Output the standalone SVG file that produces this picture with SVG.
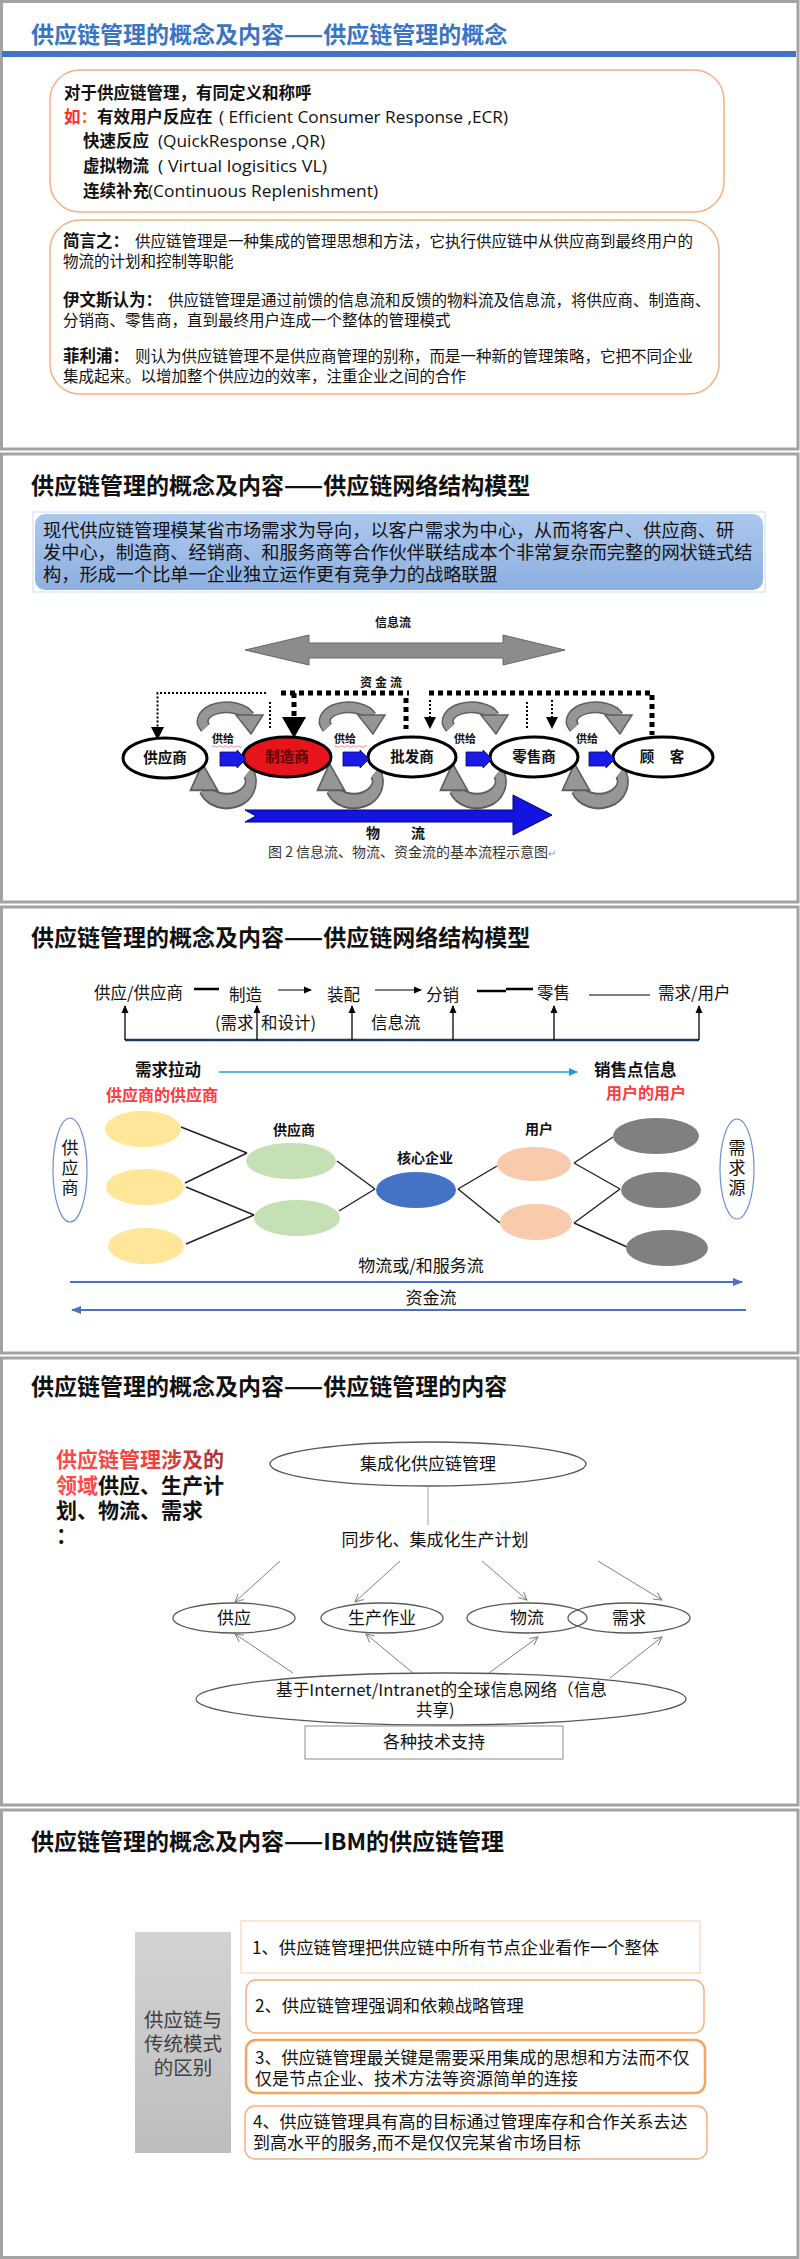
<svg xmlns="http://www.w3.org/2000/svg" xmlns:xlink="http://www.w3.org/1999/xlink" width="800" height="2259" viewBox="0 0 800 2259">
<style>
text { font-family: "Noto Sans CJK SC", "Noto Sans", "Liberation Sans", sans-serif; fill: #111; }
.title { font-size: 23px; font-weight: bold; }
.frame { fill: #fff; stroke: #a3a3a3; stroke-width: 3; }
.b165 { font-size: 16.5px; font-weight: bold; }
.body { font-size: 15.5px; }
.lat { font-family: "Open Sans", "Liberation Sans", sans-serif; font-size: 16px; }
.node { fill: #fff; stroke: #000; stroke-width: 3; }
.nl { font-size: 14.5px; font-weight: bold; text-anchor: middle; }
.gl { font-size: 11px; font-weight: bold; }
.thin { stroke: #000; stroke-width: 2; stroke-dasharray: 2 2; fill: none; }
.thick { stroke: #000; stroke-width: 5; stroke-dasharray: 5 4; fill: none; }
.s3 { font-size: 16.5px; }
.s3b { font-size: 16.5px; font-weight: bold; }
.red { fill: #ff3b3b; font-weight: bold; font-size: 16px; }
.lk { stroke: #222; stroke-width: 1.4; fill: none; }
.s4 { font-size: 17px; text-anchor: middle; }
.ell4 { fill: none; stroke: #595959; stroke-width: 1.3; }
.ar4 { stroke: #808080; stroke-width: 1; fill: none; marker-end: url(#openHead); }
.s5 { font-size: 17.3px; }
.s5b { font-size: 17px; }
.vt { font-size: 17px; writing-mode: vertical-rl; letter-spacing: 3px; }
</style>
<defs>
<marker id="blkHead" markerUnits="userSpaceOnUse" markerWidth="8" markerHeight="8" refX="7" refY="4" orient="auto"><path d="M0,0.5 L8,4 L0,7.5 z" fill="#000"/></marker>
<marker id="bluHead" markerUnits="userSpaceOnUse" markerWidth="9" markerHeight="9" refX="8" refY="4.5" orient="auto"><path d="M0,0.5 L9,4.5 L0,8.5 z" fill="#1f9bde"/></marker>
<marker id="bl2Head" markerUnits="userSpaceOnUse" markerWidth="10" markerHeight="10" refX="9" refY="5" orient="auto"><path d="M0,1 L10,5 L0,9 z" fill="#4472c4"/></marker>
<marker id="openHead" markerUnits="userSpaceOnUse" markerWidth="10" markerHeight="10" refX="9" refY="5" orient="auto"><path d="M1,1 L9,5 L1,9" fill="none" stroke="#808080" stroke-width="1"/></marker>
<linearGradient id="boxBlue" x1="0" y1="0" x2="0" y2="1"><stop offset="0" stop-color="#abc7ec"/><stop offset="1" stop-color="#8eb0e0"/></linearGradient>
<linearGradient id="grayBox" x1="0" y1="0" x2="0" y2="1"><stop offset="0" stop-color="#d3d3d3"/><stop offset="1" stop-color="#bdbdbd"/></linearGradient>
<linearGradient id="redGrad" gradientUnits="userSpaceOnUse" x1="56" y1="0" x2="228" y2="0"><stop offset="0" stop-color="#ff4a4a"/><stop offset="0.55" stop-color="#f04040"/><stop offset="1" stop-color="#a33030"/></linearGradient>
<g id="arcTop">
<path d="M -22.6,4.8 A 24 14 0 1 1 21,-6.8" fill="none" stroke="#5e5e5e" stroke-width="12"/>
<path d="M -22.6,4.8 A 24 14 0 1 1 21,-6.8" fill="none" stroke="#969696" stroke-width="9"/>
<polygon points="8,-8 35,-8 23,11" fill="#969696" stroke="#5e5e5e" stroke-width="1.5"/>
</g>
<polygon id="smallBlue" points="0,-7 17,-7 17,-9 26,0 17,9 17,7 0,7" fill="#1a1ae6" stroke="#00006a" stroke-width="0.8"/>
</defs>

<rect width="800" height="2259" fill="#fff"/>

<!-- Slide 1 -->
<g id="slide1">
<rect class="frame" x="1.5" y="1.5" width="796.5" height="447.5"/>
<text class="title" x="31" y="43" style="fill:#3a75c4">供应链管理的概念及内容——供应链管理的概念</text>
<rect x="2" y="51" width="794" height="6" fill="#4472c4"/>
<g id="s1box1">
<rect x="50" y="70" width="674" height="142" rx="30" fill="#fff" stroke="#f4b183" stroke-width="1.5"/>
<text class="b165" x="64" y="99">对于供应链管理，有同定义和称呼</text>
<text class="b165" x="64" y="123"><tspan style="fill:#ff2a2a">如</tspan><tspan style="fill:#e8642a">：</tspan>有效用户反应在</text>
<text class="lat" x="219" y="123" textLength="289" lengthAdjust="spacingAndGlyphs">( Efficient  Consumer  Response ,ECR)</text>
<text class="b165" x="83" y="147">快速反应</text>
<text class="lat" x="158" y="147" textLength="167" lengthAdjust="spacingAndGlyphs">(QuickResponse ,QR)</text>
<text class="b165" x="83" y="172">虚拟物流</text>
<text class="lat" x="158" y="172" textLength="169" lengthAdjust="spacingAndGlyphs">( Virtual  logisitics VL)</text>
<text class="b165" x="83" y="197">连续补充</text>
<text class="lat" x="148" y="197" textLength="230" lengthAdjust="spacingAndGlyphs">(Continuous  Replenishment)</text>
</g>
<g id="s1box2">
<rect x="50" y="220" width="669" height="174" rx="30" fill="#fff" stroke="#f4b183" stroke-width="1.5"/>
<text class="b165" x="63" y="247">简言之：</text>
<text class="body" x="135" y="247">供应链管理是一种集成的管理思想和方法，它执行供应链中从供应商到最终用户的</text>
<text class="body" x="63" y="267">物流的计划和控制等职能</text>
<text class="b165" x="63" y="306">伊文斯认为：</text>
<text class="body" x="168" y="306">供应链管理是通过前馈的信息流和反馈的物料流及信息流，将供应商、制造商、</text>
<text class="body" x="63" y="326">分销商、零售商，直到最终用户连成一个整体的管理模式</text>
<text class="b165" x="63" y="362">菲利浦：</text>
<text class="body" x="135" y="362">则认为供应链管理不是供应商管理的别称，而是一种新的管理策略，它把不同企业</text>
<text class="body" x="63" y="382">集成起来。以增加整个供应边的效率，注重企业之间的合作</text>
</g>
</g>

<!-- Slide 2 -->
<g id="slide2">
<rect class="frame" x="1.5" y="454" width="796.5" height="448"/>
<text class="title" x="31" y="494">供应链管理的概念及内容——供应链网络结构模型</text>
<g id="s2intro">
<rect x="33" y="512" width="732" height="80" fill="none" stroke="#c9dbf2" stroke-width="1"/>
<rect x="35" y="514" width="728" height="76" rx="10" fill="url(#boxBlue)"/>
<text style="font-size:18.2px" x="43" y="537">现代供应链管理模某省市场需求为导向，以客户需求为中心，从而将客户、供应商、研</text>
<text style="font-size:18.2px" x="43" y="559">发中心，制造商、经销商、和服务商等合作伙伴联结成本个非常复杂而完整的网状链式结</text>
<text style="font-size:18.2px" x="43" y="581">构，形成一个比单一企业独立运作更有竞争力的战略联盟</text>
</g>
<g id="s2figure">
<text style="font-size:12px;font-weight:bold" x="375" y="627">信息流</text>
<polygon points="245,650 309,635 309,643 503,643 503,635 565,650 503,665 503,658 309,658 309,665" fill="#8c8c8c" stroke="#666" stroke-width="1"/>
<text style="font-size:12px;font-weight:bold;letter-spacing:3px" x="360" y="687">资金流</text>
<g id="s2money">
<path class="thin" d="M266,693 H157.5 V727"/>
<polygon points="151,727 164,727 157.5,740" fill="#000"/>
<path class="thin" d="M270,702 V729"/>
<path class="thick" d="M281,693 H409"/>
<path class="thick" d="M294,693 V717"/>
<polygon points="282,717 306,717 294,738" fill="#000"/>
<path class="thick" d="M406,698 V729"/>
<path class="thick" d="M429,693 H652 V735"/>
<path class="thin" d="M430,700 V717"/>
<polygon points="424,717 436,717 430,729" fill="#000"/>
<path class="thin" d="M527,702 V730"/>
<path class="thin" d="M552,700 V717"/>
<polygon points="546,717 558,717 552,729" fill="#000"/>
</g>
<g id="s2cycles">
<use xlink:href="#arcTop" transform="translate(228,723)"/>
<use xlink:href="#arcTop" transform="translate(350,723)"/>
<use xlink:href="#arcTop" transform="translate(473,723)"/>
<use xlink:href="#arcTop" transform="translate(597,723)"/>
<use xlink:href="#arcTop" transform="translate(225.5,779) rotate(180) scale(1,1.4)"/>
<use xlink:href="#arcTop" transform="translate(352.5,779) rotate(180) scale(1,1.4)"/>
<use xlink:href="#arcTop" transform="translate(475.5,779) rotate(180) scale(1,1.4)"/>
<use xlink:href="#arcTop" transform="translate(597.5,779) rotate(180) scale(1,1.4)"/>
</g>
<g id="n-supplier"><ellipse class="node" cx="165" cy="758" rx="42" ry="20"/><text class="nl" x="165" y="763">供应商</text></g>
<g id="n-maker"><ellipse class="node" cx="287" cy="757" rx="44" ry="20" style="fill:#e8141c"/><text class="nl" x="287" y="762" style="fill:#5a0000">制造商</text></g>
<g id="n-wholesale"><ellipse class="node" cx="412" cy="757" rx="44" ry="20"/><text class="nl" x="412" y="762">批发商</text></g>
<g id="n-retail"><ellipse class="node" cx="534" cy="757" rx="44" ry="20"/><text class="nl" x="534" y="762">零售商</text></g>
<g id="n-customer"><ellipse class="node" cx="663" cy="757" rx="50" ry="20"/><text class="nl" x="647" y="762">顾</text><text class="nl" x="677" y="762">客</text></g>
<g id="s2supply">
<use xlink:href="#smallBlue" transform="translate(220,759)"/>
<use xlink:href="#smallBlue" transform="translate(343,759)"/>
<use xlink:href="#smallBlue" transform="translate(466,759)"/>
<use xlink:href="#smallBlue" transform="translate(589,759)"/>
<text class="gl" x="212" y="743">供给</text>
<text class="gl" x="334" y="743">供给</text>
<text class="gl" x="454" y="743">供给</text>
<text class="gl" x="576" y="743">供给</text>
<path d="M212,746.5 q1.5,-1.5 3,0 t3,0 t3,0 t3,0 t3,0 t3,0 t3,0 t3,0 t3,0 t3,0" fill="none" stroke="#e06060" stroke-width="0.7"/>
<path d="M334,746.5 q1.5,-1.5 3,0 t3,0 t3,0 t3,0 t3,0 t3,0 t3,0 t3,0 t3,0 t3,0 t3,0" fill="none" stroke="#e06060" stroke-width="0.7"/>
</g>
<polygon points="245,810 513,810 513,795 552,815 513,835 513,822 245,822 256,816" fill="#1414e0" stroke="#00007a" stroke-width="1"/>
<text style="font-size:14px;font-weight:bold" x="366" y="838">物</text>
<text style="font-size:14px;font-weight:bold" x="411" y="838">流</text>
<text style="font-size:14px;fill:#333" x="268" y="857">图 2   信息流、物流、资金流的基本流程示意图<tspan style="fill:#999;font-size:10px">↵</tspan></text>
</g>
</g>

<!-- Slide 3 -->
<g id="slide3">
<rect class="frame" x="1.5" y="907" width="796.5" height="446"/>
<text class="title" x="31" y="946">供应链管理的概念及内容——供应链网络结构模型</text>
<g id="s3flow">
<text class="s3" x="94" y="999">供应/供应商</text>
<line x1="194" y1="989" x2="219" y2="989" stroke="#000" stroke-width="2.5"/>
<text class="s3" x="229" y="1001">制造</text>
<line x1="278" y1="990" x2="311" y2="990" stroke="#000" stroke-width="1.2" marker-end="url(#blkHead)"/>
<text class="s3" x="327" y="1001">装配</text>
<line x1="375" y1="990" x2="421" y2="990" stroke="#000" stroke-width="1.2" marker-end="url(#blkHead)"/>
<text class="s3" x="426" y="1001">分销</text>
<line x1="477" y1="991" x2="506" y2="991" stroke="#000" stroke-width="2.5"/>
<line x1="506" y1="989" x2="533" y2="989" stroke="#000" stroke-width="2.5"/>
<text class="s3" x="537" y="999">零售</text>
<line x1="589" y1="995" x2="650" y2="995" stroke="#000" stroke-width="1.2"/>
<text class="s3" x="658" y="999">需求/用户</text>
<text class="s3" x="215" y="1029">(需求</text>
<text class="s3" x="261" y="1029">和设计)</text>
<text class="s3" x="371" y="1029">信息流</text>
<line x1="125" y1="1040" x2="699" y2="1040" stroke="#1f3864" stroke-width="2.5"/>
<g stroke="#000" stroke-width="1.3" marker-end="url(#blkHead)">
<line x1="125" y1="1040" x2="125" y2="1006"/>
<line x1="257" y1="1040" x2="257" y2="1006"/>
<line x1="352" y1="1040" x2="352" y2="1006"/>
<line x1="453" y1="1040" x2="453" y2="1006"/>
<line x1="554" y1="1040" x2="554" y2="1006"/>
<line x1="699" y1="1040" x2="699" y2="1006"/>
</g>
<text class="s3b" x="135" y="1076">需求拉动</text>
<line x1="219" y1="1072" x2="577" y2="1072" stroke="#1f9bde" stroke-width="1.5" marker-end="url(#bluHead)"/>
<text class="s3b" x="594" y="1076">销售点信息</text>
<text class="red" x="106" y="1101">供应商的供应商</text>
<text class="red" x="606" y="1099">用户的用户</text>
</g>
<g id="s3links">
<line class="lk" x1="181" y1="1127" x2="247" y2="1153"/>
<line class="lk" x1="185" y1="1183" x2="247" y2="1153"/>
<line class="lk" x1="186" y1="1187" x2="254" y2="1215"/>
<line class="lk" x1="186" y1="1244" x2="254" y2="1215"/>
<line class="lk" x1="337" y1="1161" x2="375" y2="1189"/>
<line class="lk" x1="339" y1="1211" x2="375" y2="1189"/>
<line class="lk" x1="458" y1="1189" x2="497" y2="1166"/>
<line class="lk" x1="458" y1="1189" x2="500" y2="1223"/>
<line class="lk" x1="574" y1="1163" x2="613" y2="1137"/>
<line class="lk" x1="574" y1="1163" x2="620" y2="1189"/>
<line class="lk" x1="574" y1="1223" x2="620" y2="1189"/>
<line class="lk" x1="574" y1="1223" x2="627" y2="1247"/>
</g>
<g id="s3-src"><ellipse cx="70" cy="1170" rx="17" ry="52" fill="none" stroke="#6f8fd0" stroke-width="1.2"/>
<text class="vt" x="70" y="1139">供应商</text></g>
<g id="s3-dem"><ellipse cx="737" cy="1169" rx="17" ry="50" fill="none" stroke="#6f8fd0" stroke-width="1.2"/>
<text class="vt" x="737" y="1139">需求源</text></g>
<g id="s3-y1"><ellipse cx="143" cy="1129" rx="38" ry="18" fill="#ffe699"/></g>
<g id="s3-y2"><ellipse cx="145" cy="1187" rx="39" ry="18" fill="#ffe699"/></g>
<g id="s3-y3"><ellipse cx="146" cy="1246" rx="38" ry="18" fill="#ffe699"/></g>
<g id="s3-g1"><ellipse cx="291" cy="1161" rx="45" ry="18" fill="#c5e0b4"/></g>
<g id="s3-g2"><ellipse cx="297" cy="1218" rx="43" ry="18" fill="#c5e0b4"/></g>
<text style="font-size:14px;font-weight:bold;text-anchor:middle" x="294" y="1135">供应商</text>
<g id="s3-core"><ellipse cx="416" cy="1190" rx="40" ry="18" fill="#4472c4"/></g>
<text style="font-size:14px;font-weight:bold;text-anchor:middle" x="425" y="1163">核心企业</text>
<g id="s3-p1"><ellipse cx="534" cy="1164" rx="37" ry="17" fill="#f8cbad"/></g>
<g id="s3-p2"><ellipse cx="536" cy="1222" rx="36" ry="18" fill="#f8cbad"/></g>
<text style="font-size:14px;font-weight:bold;text-anchor:middle" x="539" y="1134">用户</text>
<g id="s3-k1"><ellipse cx="656" cy="1136" rx="43" ry="18" fill="#808080"/></g>
<g id="s3-k2"><ellipse cx="661" cy="1190" rx="40" ry="18" fill="#808080"/></g>
<g id="s3-k3"><ellipse cx="667" cy="1248" rx="41" ry="18" fill="#808080"/></g>
<text style="font-size:17px;text-anchor:middle" x="421" y="1272">物流或/和服务流</text>
<line x1="70" y1="1282" x2="742" y2="1282" stroke="#4472c4" stroke-width="2" marker-end="url(#bl2Head)"/>
<text style="font-size:17px;text-anchor:middle" x="431" y="1304">资金流</text>
<line x1="746" y1="1310" x2="72" y2="1310" stroke="#4472c4" stroke-width="2" marker-end="url(#bl2Head)"/>
</g>

<!-- Slide 4 -->
<g id="slide4">
<rect class="frame" x="1.5" y="1358" width="796.5" height="447"/>
<text class="title" x="31" y="1395">供应链管理的概念及内容——供应链管理的内容</text>
<g id="s4left">
<text style="font-size:21px;font-weight:bold" x="56" y="1467"><tspan style="fill:url(#redGrad)">供应链管理涉及的</tspan><tspan x="56" y="1493" style="fill:#ff4a4a">领域</tspan><tspan>供应、生产计</tspan><tspan x="56" y="1518">划、物流、需求</tspan><tspan x="56" y="1543">：</tspan></text>
</g>
<g id="s4top"><ellipse class="ell4" cx="428" cy="1464" rx="158" ry="22" style="fill:#fff"/><text class="s4" x="428" y="1470">集成化供应链管理</text></g>
<line x1="428" y1="1486" x2="428" y2="1525" stroke="#a0a0a0" stroke-width="1"/>
<text class="s4" x="435" y="1546">同步化、集成化生产计划</text>
<g id="s4arrows">
<line class="ar4" x1="280" y1="1561" x2="235" y2="1602"/>
<line class="ar4" x1="400" y1="1561" x2="355" y2="1602"/>
<line class="ar4" x1="482" y1="1561" x2="527" y2="1600"/>
<line class="ar4" x1="598" y1="1561" x2="662" y2="1600"/>
<line class="ar4" x1="293" y1="1673" x2="235" y2="1634"/>
<line class="ar4" x1="413" y1="1673" x2="366" y2="1634"/>
<line class="ar4" x1="489" y1="1673" x2="538" y2="1637"/>
<line class="ar4" x1="610" y1="1678" x2="662" y2="1637"/>
</g>
<g id="s4-supply"><ellipse class="ell4" cx="234" cy="1618" rx="61" ry="15"/><text class="s4" x="234" y="1624">供应</text></g>
<g id="s4-prod"><ellipse class="ell4" cx="382" cy="1618" rx="61" ry="15"/><text class="s4" x="382" y="1624">生产作业</text></g>
<g id="s4-log"><ellipse class="ell4" cx="527" cy="1618" rx="60" ry="15"/><text class="s4" x="527" y="1624">物流</text></g>
<g id="s4-dem"><ellipse class="ell4" cx="629" cy="1618" rx="61" ry="15"/><text class="s4" x="629" y="1624">需求</text></g>
<g id="s4-net"><ellipse class="ell4" cx="441" cy="1699" rx="245" ry="26" style="fill:#fff"/>
<text style="font-size:16.5px" x="276" y="1696" textLength="331" lengthAdjust="spacingAndGlyphs">基于Internet/Intranet的全球信息网络（信息</text>
<text style="font-size:16.5px" x="416" y="1716">共享)</text></g>
<g id="s4-tech"><rect x="305" y="1726" width="258" height="33" fill="#fff" stroke="#8c8c8c" stroke-width="1"/><text class="s4" x="434" y="1748">各种技术支持</text></g>
</g>

<!-- Slide 5 -->
<g id="slide5">
<rect class="frame" x="1.5" y="1810" width="796.5" height="447.5"/>
<text class="title" x="31" y="1850">供应链管理的概念及内容——IBM的供应链管理</text>
<g id="s5-label"><rect x="135" y="1932" width="96" height="221" fill="url(#grayBox)"/>
<text style="font-size:19.5px;fill:#404040;text-anchor:middle" x="183" y="2027">供应链与<tspan x="183" y="2051">传统模式</tspan><tspan x="183" y="2075">的区别</tspan></text></g>
<g id="s5-item1"><rect x="241" y="1921" width="459" height="52" fill="#fff" stroke="#f8cbad" stroke-width="1"/>
<text class="s5" x="252" y="1954">1、供应链管理把供应链中所有节点企业看作一个整体</text></g>
<g id="s5-item2"><rect x="246" y="1980" width="458" height="53" rx="10" fill="#fff" stroke="#f4b183" stroke-width="1.5"/>
<text class="s5" x="255" y="2012">2、供应链管理强调和依赖战略管理</text></g>
<g id="s5-item3"><rect x="246" y="2040" width="459" height="53" rx="10" fill="#fff" stroke="#f4a460" stroke-width="2.5"/>
<text class="s5b" x="255" y="2064">3、供应链管理最关键是需要采用集成的思想和方法而不仅</text>
<text class="s5b" x="255" y="2084.5">仅是节点企业、技术方法等资源简单的连接</text></g>
<g id="s5-item4"><rect x="245" y="2106" width="462" height="53" rx="10" fill="#fff" stroke="#f4b183" stroke-width="1.5"/>
<text class="s5b" x="253" y="2128">4、供应链管理具有高的目标通过管理库存和合作关系去达</text>
<text class="s5b" x="253" y="2148.5">到高水平的服务,而不是仅仅完某省市场目标</text></g>
</g>
</svg>
